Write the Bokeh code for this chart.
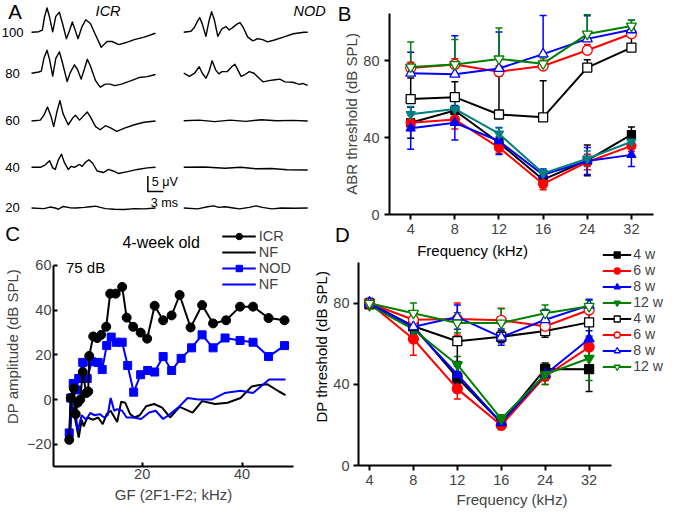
from bokeh.plotting import figure
from bokeh.layouts import row, column
from bokeh.models import (Range1d, Label, Legend, LegendItem, Whisker, Spacer,
                          ColumnDataSource, FixedTicker, TeeHead)
from bokeh.embed import file_html
from bokeh.resources import INLINE

S = 0.97
FONT = "Liberation Sans"


def px(v):
    return int(round(v * S))


def fs(v):
    return f"{v * S:.1f}px"


# ------------------------------------------------------------------ data
# Panel A: ABR waveforms (time in ms, amplitude in uV relative to baseline)
LEVELS = [100, 80, 60, 40, 20]
ICR_100_T = [0, 1.4, 2.1, 2.5, 3.0, 3.5, 4.1, 4.7, 5.4, 6.0, 6.75, 7.4, 7.9, 8.4, 9.0, 9.75, 10.5, 11.4, 12.4, 13.5, 14.6, 15.6, 16.9, 18.0, 19.9, 21.8, 24.0]
ICR_100_V = [0.1, 0.25, 0.8, 4.9, 7.9, 4.9, 0.2, 5.2, 6.5, 2.9, -2.0, 0.8, 3.4, 1.0, -2.0, 1.8, 4.1, 2.9, -0.8, -4.8, -2.9, -2.9, -3.9, -3.4, -2.3, -1.5, -0.25]
ICR_80_T = [0, 1.4, 1.9, 2.4, 3.0, 3.5, 4.1, 4.7, 5.4, 6.0, 6.9, 7.5, 8.3, 8.9, 9.6, 10.2, 10.8, 11.4, 12.4, 13.3, 14.3, 15.2, 16.1, 17.4, 19.3, 20.8, 22.4, 24.0]
ICR_80_V = [0, 0.4, 0.7, 4.8, 7.4, 4.4, -0.9, 4.8, 6.9, 3.3, -2.7, 0.2, 2.7, 1.2, -1.9, 1.2, 4.5, 2.3, -2.4, -4.5, -3.5, -3.5, -4.0, -3.5, -2.4, -1.4, -1.1, -0.4]
ICR_60_T = [0, 1.7, 2.4, 3.1, 3.8, 4.3, 4.9, 5.5, 6.1, 7.1, 7.9, 8.5, 9.3, 10.2, 10.8, 11.4, 12.4, 13.3, 14.3, 15.2, 16.5, 18.0, 19.9, 21.8, 24.0]
ICR_60_V = [-0.1, 0.2, 1.8, 4.4, 1.25, -1.9, 2.8, 6.5, 2.3, -1.3, 0.7, 1.8, 0.2, 1.8, 2.8, 1.25, -1.9, -2.9, -1.6, -2.2, -3.4, -2.4, -1.3, -0.5, -0.1]
ICR_40_T = [0, 1.7, 2.6, 3.5, 4.1, 4.6, 5.2, 5.8, 6.4, 7.1, 7.7, 8.3, 9.3, 9.8, 10.5, 11.1, 11.8, 12.7, 13.9, 14.9, 15.8, 16.8, 18.6, 20.5, 22.4, 24.0]
ICR_40_V = [0, 0, 0.7, 2.1, -0.2, -0.7, 2.4, 4.2, 1.4, -0.7, 0.3, 0, 0.9, 0.3, 1.7, 2.4, 1.4, -1.2, -1.7, -0.7, -1.2, -2.0, -1.4, -0.7, -0.2, 0]
ICR_20_T = [0, 2.4, 3.6, 4.6, 5.2, 6.1, 7.4, 8.6, 10.2, 11.4, 12.4, 13.3, 14.3, 16.1, 18.0, 19.9, 21.8, 24.0]
ICR_20_V = [0, -0.2, 0.3, 0, -0.4, 0.5, 0.1, 0, 0.2, 0.4, 0.6, 0.2, -0.2, -0.4, -0.5, -0.2, -0.3, 0]

NOD_100_T = [0, 1.4, 2.1, 2.7, 3.1, 3.6, 4.3, 4.9, 5.4, 5.9, 6.6, 7.4, 8.2, 8.8, 9.4, 10.3, 10.9, 11.5, 12.4, 13.4, 14.3, 15.3, 16.2, 17.4, 19.3, 21.2, 23.3, 24.0]
NOD_100_V = [0.1, 0.4, 1.7, 3.75, 4.8, 2.7, -1.25, 3.75, 6.7, 4.3, -1.25, 1.2, 1.9, 0.8, 1.5, 2.7, 3.2, 1.7, -1.5, -2.7, -2.0, -2.3, -3.0, -2.5, -1.5, -0.4, 0.1, 0.1]
NOD_80_T = [0, 1.1, 2.1, 3.0, 3.6, 4.3, 4.9, 5.5, 6.2, 6.8, 7.4, 8.4, 9.3, 9.9, 10.5, 11.1, 11.8, 12.7, 13.6, 14.6, 15.4, 16.5, 17.7, 18.6, 19.6, 21.1, 22.4, 23.0, 24.0]
NOD_80_V = [0, -1.0, 0, 2.1, 0, -1.6, 0.5, 4.0, 1.0, -0.2, 0.5, 0.5, 2.1, 2.9, 1.0, -1.0, -0.5, 0.5, 0, -1.6, -2.8, -2.4, -2.1, -1.9, -2.8, -2.9, -3.6, -3.3, -3.9]
NOD_60_T = [0, 3, 6, 9, 12, 15, 18, 21, 24]
NOD_60_V = [0, 0.2, -0.3, 0.2, -0.2, 0.3, 0, 0.1, -0.1]
NOD_40_T = [0, 4, 8, 11, 14, 17, 20, 24]
NOD_40_V = [0, 0.1, -0.3, 0, -0.5, -0.4, -0.8, -0.9]
NOD_20_T = [0, 2.7, 4.6, 5.8, 6.8, 8.0, 9.6, 10.8, 12.7, 14.0, 15.2, 17.1, 18.9, 21.4, 24.0]
NOD_20_V = [0, -0.3, 0.4, 0.7, 0.2, 0.4, 0, -0.3, 0.2, 0.7, 0.2, -0.3, 0, -0.1, 0]
SCALE_UV = 5
SCALE_MS = 3

# Panels B and D: thresholds per frequency
FREQ = [4, 8, 12, 16, 24, 32]
WEEKS = ["4 w", "6 w", "8 w", "12 w"]
THR_TICKS = [0, 40, 80]

B_ICR_4W = [47.7, 54.1, 37.3, 18.1, 28.1, 41.5]
B_ICR_4W_ERR = [8, 5, 3, 4, 8, 4]
B_ICR_6W = [47.7, 49.4, 34.8, 15.9, 27.3, 35.7]
B_ICR_6W_ERR = [4, 5, 3, 3, 4, 3]
B_ICR_8W = [44.9, 47.7, 38.2, 20.6, 27.8, 31.0]
B_ICR_8W_ERR = [11, 9, 7, 3, 7, 6]
B_ICR_12W = [52.1, 54.9, 42.0, 21.4, 29.0, 37.8]
B_ICR_12W_ERR = [4, 4, 3, 2, 4, 3]
B_NOD_4W = [60.0, 61.0, 52.0, 50.5, 76.4, 86.8]
B_NOD_4W_ERR = [11, 8, 20, 19, 4, 11]
B_NOD_6W = [76.2, 78.0, 74.2, 77.2, 85.4, 94.0]
B_NOD_6W_ERR = [3, 3, 3, 3, 3, 3]
B_NOD_8W = [73.4, 72.9, 75.9, 83.4, 91.3, 96.0]
B_NOD_8W_ERR = [11, 20, 19, 20, 12, 5]
B_NOD_12W = [76.7, 78.0, 80.9, 78.4, 93.8, 98.0]
B_NOD_12W_ERR = [13, 13, 16, 3, 10, 3]

D_ICR_4W = [79.5, 68.7, 43.3, 21.1, 47.6, 47.5]
D_ICR_4W_ERR = [1, 3, 3, 2, 3, 11]
D_ICR_6W = [80.0, 62.4, 37.8, 19.8, 44.0, 58.4]
D_ICR_6W_ERR = [1, 8, 5, 2, 4, 5]
D_ICR_8W = [80.5, 68.0, 44.9, 21.1, 44.9, 62.4]
D_ICR_8W_ERR = [2, 3, 4, 2, 3, 4]
D_ICR_12W = [79.0, 67.1, 49.7, 23.0, 44.9, 52.9]
D_ICR_12W_ERR = [1, 3, 4, 2, 5, 11]
D_NOD_4W = [80.0, 68.7, 61.3, 63.5, 66.3, 70.6]
D_NOD_4W_ERR = [1, 3, 10, 3, 3, 9]
D_NOD_6W = [80.0, 71.9, 72.2, 71.6, 68.7, 76.7]
D_NOD_6W_ERR = [1, 3, 8, 6, 3, 5]
D_NOD_8W = [80.0, 68.4, 73.2, 63.3, 71.9, 79.0]
D_NOD_8W_ERR = [1, 4, 6, 4, 5, 3]
D_NOD_12W = [80.0, 75.1, 70.3, 70.3, 75.1, 78.5]
D_NOD_12W_ERR = [1, 5, 5, 7, 4, 3]

# Panel C: DP-gram, 4-week old, 75 dB
C_ICR_X = [5.4, 5.7, 6.3, 6.7, 7.1, 7.6, 8.1, 8.8, 9.2, 9.4, 10.2, 11.0, 11.8, 12.8, 13.6, 14.7, 16.0, 16.9, 18.2, 19.7, 21.0, 22.5, 24.2, 25.9, 27.5, 29.7, 32.0, 34.2, 36.8, 39.6, 42.2, 45.3, 48.5]
C_ICR_Y = [-18, 0.7, 5, -6.5, -1.4, 0, 12.3, 2.9, 3.6, 19.5, 28.2, 27.5, 28.9, 32.5, 47.3, 47.3, 50.3, 36.6, 32.5, 29.9, 27.2, 41.9, 35.4, 37.6, 46.7, 32.2, 42.2, 34, 35.4, 41.5, 41.5, 36.4, 35.4]
C_NOD_X = [5.4, 5.7, 6.2, 6.9, 7.3, 8.1, 9.0, 9.9, 11.2, 12.0, 12.9, 13.8, 14.8, 16.0, 17.1, 18.3, 19.7, 21.1, 22.5, 24.2, 25.9, 27.8, 29.9, 32.0, 34.2, 36.6, 39.6, 42.2, 45.3, 48.5]
C_NOD_Y = [-14.9, 0.7, 7.2, 4.3, 9.4, 16.6, 9.4, 16.9, 16.6, 13.4, 24.1, 27.9, 25.6, 25.6, 15.2, 3.3, 11.1, 13, 12.3, 19.2, 13, 18.4, 23.1, 28.9, 23.1, 27.5, 26.4, 25.6, 19.2, 24.1]
C_NF_ICR_X = [5.4, 6.0, 7.3, 7.9, 8.3, 9.0, 10.2, 11.2, 12.1, 12.9, 13.7, 15.0, 15.8, 16.6, 17.6, 18.5, 19.5, 20.8, 22.4, 24.0, 25.6, 27.5, 30.1, 32.0, 34.6, 37.1, 39.7, 41.9, 43.5, 45.1, 47.4, 48.7]
C_NF_ICR_Y = [-18, -2, -17, -9, -12, -8, -9, -8, -11, -6.5, -5, -10, -1, -1.4, -6.5, -8, -7, -3, -2, -3.6, -8, -3.3, -5.8, -0.7, -2, -1.4, 0.7, 5.8, 6.5, 6.8, 3.6, 2]
C_NF_NOD_X = [5.6, 6.0, 6.5, 7.1, 7.9, 8.8, 9.6, 10.5, 11.5, 12.4, 13.1, 13.7, 14.4, 15.0, 16.0, 16.9, 18.2, 19.8, 21.4, 22.7, 24.2, 25.6, 27.2, 29.1, 31.3, 33.9, 36.5, 39.7, 42.2, 45.4, 48.7]
C_NF_NOD_Y = [-15, 2, -2, -14, -7, -9, -6, -7, -6.5, -8, -7, 0.7, -5, -4.3, -5, -8, -8, -8.7, -5.8, -5, -8.7, -6.5, -3.6, 0.7, 0, 0, 2.9, 3.9, 2.9, 9, 9]
C_X_TICKS = [20, 40]
C_Y_TICKS = [-20, 0, 20, 40, 60]

BLACK, RED, BLUE, GREEN, TEAL = "#000000", "#ff0000", "#0000ff", "#008000", "#008080"


# ------------------------------------------------------------------ helpers
def lbl(p, x, y, text, size, align="left", baseline="middle", style="normal", angle=0):
    p.add_layout(Label(x=x, y=y, text=text, text_font=FONT, text_font_size=fs(size),
                       text_align=align, text_baseline=baseline, text_font_style=style,
                       angle=angle, text_color="black"))


def axes_fig(w, h, xr, yr, left, right, top, bottom):
    p = figure(width=px(w), height=px(h), x_range=xr, y_range=yr,
               output_backend="svg", toolbar_location=None,
               min_border_left=px(left), min_border_right=px(right),
               min_border_top=px(top), min_border_bottom=px(bottom))
    p.outline_line_color = None
    p.grid.grid_line_color = None
    for ax in p.axis:
        ax.axis_line_width = 2
        ax.major_tick_line_width = 2
        ax.minor_tick_line_color = None
        ax.major_label_text_font = FONT
        ax.major_label_text_font_size = fs(15)
        ax.axis_label_text_font = FONT
        ax.axis_label_text_font_size = fs(15.5)
        ax.axis_label_text_font_style = "normal"
    return p


def series(p, ys, err, color, marker, filled, upper_only, size):
    xs = list(range(len(ys)))
    src = ColumnDataSource(dict(x=xs, y=ys,
                                u=[y + e for y, e in zip(ys, err)],
                                l=[y if upper_only else y - e for y, e in zip(ys, err)]))
    w = Whisker(base="x", upper="u", lower="l", source=src, line_color=color, line_width=1.5,
                upper_head=TeeHead(size=px(7), line_color=color, line_width=1.5),
                lower_head=None if upper_only else TeeHead(size=px(7), line_color=color, line_width=1.5),
                level="underlay")
    p.add_layout(w)
    ln = p.line("x", "y", source=src, line_color=color, line_width=2)
    mk = p.scatter("x", "y", source=src, marker=marker, size=px(size), line_color=color,
                   fill_color=color if filled else "white", line_width=1.3)
    return [ln, mk]


# ------------------------------------------------------------------ panel B
pb = axes_fig(345, 252, Range1d(-0.48, 5.5), Range1d(0, 104.5), 61, 12, 13, 31)
pb.xaxis.ticker = FixedTicker(ticks=list(range(len(FREQ))))
pb.xaxis.major_label_overrides = {i: str(f) for i, f in enumerate(FREQ)}
pb.yaxis.ticker = FixedTicker(ticks=THR_TICKS)
pb.yaxis.axis_label = "ABR threshold (dB SPL)"
pb.xaxis.major_tick_out = px(5)
pb.xaxis.major_tick_in = 0
pb.xaxis.major_label_standoff = px(4)
pb.yaxis.major_tick_out = px(5)
pb.yaxis.major_tick_in = 0
pb.yaxis.major_label_standoff = px(5)
pb.yaxis.axis_label_standoff = 0
series(pb, B_NOD_4W, B_NOD_4W_ERR, BLACK, "square", False, True, 9)
series(pb, B_NOD_6W, B_NOD_6W_ERR, RED, "circle", False, True, 10)
series(pb, B_NOD_8W, B_NOD_8W_ERR, BLUE, "triangle", False, True, 10)
series(pb, B_NOD_12W, B_NOD_12W_ERR, GREEN, "inverted_triangle", False, True, 10)
series(pb, B_ICR_4W, B_ICR_4W_ERR, BLACK, "square", True, False, 8)
series(pb, B_ICR_6W, B_ICR_6W_ERR, RED, "circle", True, False, 9)
series(pb, B_ICR_8W, B_ICR_8W_ERR, BLUE, "triangle", True, False, 9)
series(pb, B_ICR_12W, B_ICR_12W_ERR, TEAL, "inverted_triangle", True, False, 9)

# ------------------------------------------------------------------ panel C
pc = axes_fig(340, 298, Range1d(2.25, 50.3), Range1d(-29.9, 77.3), 52, 38, 5, 45)
pc.xaxis.ticker = FixedTicker(ticks=C_X_TICKS)
pc.yaxis.ticker = FixedTicker(ticks=C_Y_TICKS)
pc.yaxis.bounds = (-30, 60)
for ax in pc.axis:
    ax.major_tick_in = px(4)
    ax.major_tick_out = 0
    ax.major_label_standoff = px(2)
pc.xaxis.axis_label = "GF (2F1-F2; kHz)"
pc.yaxis.axis_label = "DP amplitude (dB SPL)"
pc.xaxis.axis_label_standoff = px(4)
pc.yaxis.axis_label_standoff = px(3)
nf1 = pc.line(C_NF_ICR_X, C_NF_ICR_Y, line_color=BLACK, line_width=2)
nf2 = pc.line(C_NF_NOD_X, C_NF_NOD_Y, line_color=BLUE, line_width=2)
nod_l = pc.line(C_NOD_X, C_NOD_Y, line_color=BLUE, line_width=2)
nod_m = pc.scatter(C_NOD_X, C_NOD_Y, marker="square", size=px(8), color=BLUE)
icr_l = pc.line(C_ICR_X, C_ICR_Y, line_color=BLACK, line_width=2)
icr_m = pc.scatter(C_ICR_X, C_ICR_Y, marker="circle", size=px(9), color=BLACK)
leg_c = Legend(items=[LegendItem(label="ICR", renderers=[icr_l, icr_m]),
                      LegendItem(label="NF", renderers=[nf1]),
                      LegendItem(label="NOD", renderers=[nod_l, nod_m]),
                      LegendItem(label="NF", renderers=[nf2])],
               location="top_right", margin=px(2), padding=0, spacing=0,
               glyph_width=px(35), glyph_height=px(16), label_height=px(16),
               label_standoff=px(3), label_text_font=FONT, label_text_font_size=fs(15),
               border_line_color=None, background_fill_alpha=0)
pc.add_layout(leg_c)
lbl(pc, 23.8, 70, "4-week old", 16.5, align="center")
lbl(pc, 4.75, 59.1, "75 dB", 15.5)

# ------------------------------------------------------------------ panel D
pd = axes_fig(345, 274, Range1d(-0.25, 6.74), Range1d(0, 109), 29, 0, 0, 45)
pd.xaxis.ticker = FixedTicker(ticks=list(range(len(FREQ))))
pd.xaxis.major_label_overrides = {i: str(f) for i, f in enumerate(FREQ)}
pd.xaxis.bounds = (-0.25, 5.5)
pd.yaxis.ticker = FixedTicker(ticks=THR_TICKS)
pd.yaxis.bounds = (0, 100)
pd.xaxis.axis_label = "Frequency (kHz)"
pd.xaxis.axis_label_standoff = px(3)
for ax in pd.axis:
    ax.major_tick_out = px(5)
    ax.major_tick_in = 0
    ax.major_label_standoff = px(4)
r = []
r.append(series(pd, D_ICR_4W, D_ICR_4W_ERR, BLACK, "square", True, False, 9))
r.append(series(pd, D_ICR_6W, D_ICR_6W_ERR, RED, "circle", True, False, 10))
r.append(series(pd, D_ICR_8W, D_ICR_8W_ERR, BLUE, "triangle", True, False, 10))
r.append(series(pd, D_ICR_12W, D_ICR_12W_ERR, GREEN, "inverted_triangle", True, False, 10))
r.append(series(pd, D_NOD_4W, D_NOD_4W_ERR, BLACK, "square", False, False, 9))
r.append(series(pd, D_NOD_6W, D_NOD_6W_ERR, RED, "circle", False, False, 10))
r.append(series(pd, D_NOD_8W, D_NOD_8W_ERR, BLUE, "triangle", False, False, 10))
r.append(series(pd, D_NOD_12W, D_NOD_12W_ERR, GREEN, "inverted_triangle", False, False, 10))
leg_d = Legend(items=[LegendItem(label=WEEKS[i % 4], renderers=rr) for i, rr in enumerate(r)],
               location="top_right", margin=px(2), padding=0, spacing=0,
               glyph_width=px(30), glyph_height=px(15.6), label_height=px(15.6),
               label_standoff=px(2), label_text_font=FONT, label_text_font_size=fs(14.5),
               border_line_color=None, background_fill_alpha=0)
pd.add_layout(leg_d)

# ------------------------------------------------------------------ overlay: panel A and texts between panels
ov = figure(width=px(685), height=px(526), x_range=Range1d(0, 685), y_range=Range1d(526, 0),
            output_backend="svg", toolbar_location=None, x_axis_location=None,
            y_axis_location=None, min_border=0, margin=(-px(526), 0, 0, 0))
ov.outline_line_color = None
ov.grid.grid_line_color = None
ov.background_fill_alpha = 0
ov.border_fill_alpha = 0

PX_PER_MS = 5.33
PX_PER_UV = 3.2
A_COLS = [32, 189]
A_BASE = [33, 75, 124, 172, 214]
traces = [
    [(ICR_100_T, ICR_100_V), (ICR_80_T, ICR_80_V), (ICR_60_T, ICR_60_V), (ICR_40_T, ICR_40_V), (ICR_20_T, ICR_20_V)],
    [(NOD_100_T, NOD_100_V), (NOD_80_T, NOD_80_V), (NOD_60_T, NOD_60_V), (NOD_40_T, NOD_40_V), (NOD_20_T, NOD_20_V)],
]
for x0, col in zip(A_COLS, traces):
    for base, (T, V) in zip(A_BASE, col):
        ov.line([x0 + t * PX_PER_MS for t in T], [base - v * PX_PER_UV for v in V],
                line_color="black", line_width=1.4, line_join="round")
for base, lev in zip(A_BASE, LEVELS):
    lbl(ov, 12.5, base, str(lev), 13.5, align="center")
lbl(ov, 8, 12, "A", 21)
lbl(ov, 111, 11, "ICR", 15, align="center", style="italic")
lbl(ov, 319, 11, "NOD", 15, align="center", style="italic")
sb_x, sb_y = 152, 197
ov.line([sb_x, sb_x, sb_x + SCALE_MS * PX_PER_MS],
        [sb_y - SCALE_UV * PX_PER_UV, sb_y, sb_y], line_color="black", line_width=1.5)
lbl(ov, 156, 187, f"{SCALE_UV} μV", 13)
lbl(ov, 155, 209, f"{SCALE_MS} ms", 13)

lbl(ov, 348, 14, "B", 21)
lbl(ov, 5, 241, "C", 21)
lbl(ov, 345, 242, "D", 21)
lbl(ov, 487, 258, "Frequency (kHz)", 15.5, align="center")
lbl(ov, 331, 357, "DP threshold (dB SPL)", 15.5, align="center", angle=1.5707963)

left = column(Spacer(width=px(340), height=px(228)), pc)
top = row(left, pb)
d_box = row(pd)
d_box.margin = (-px(274), 0, 0, px(340))
layout = column(top, d_box, ov)
open("out.html", "w").write(file_html(layout, INLINE))
